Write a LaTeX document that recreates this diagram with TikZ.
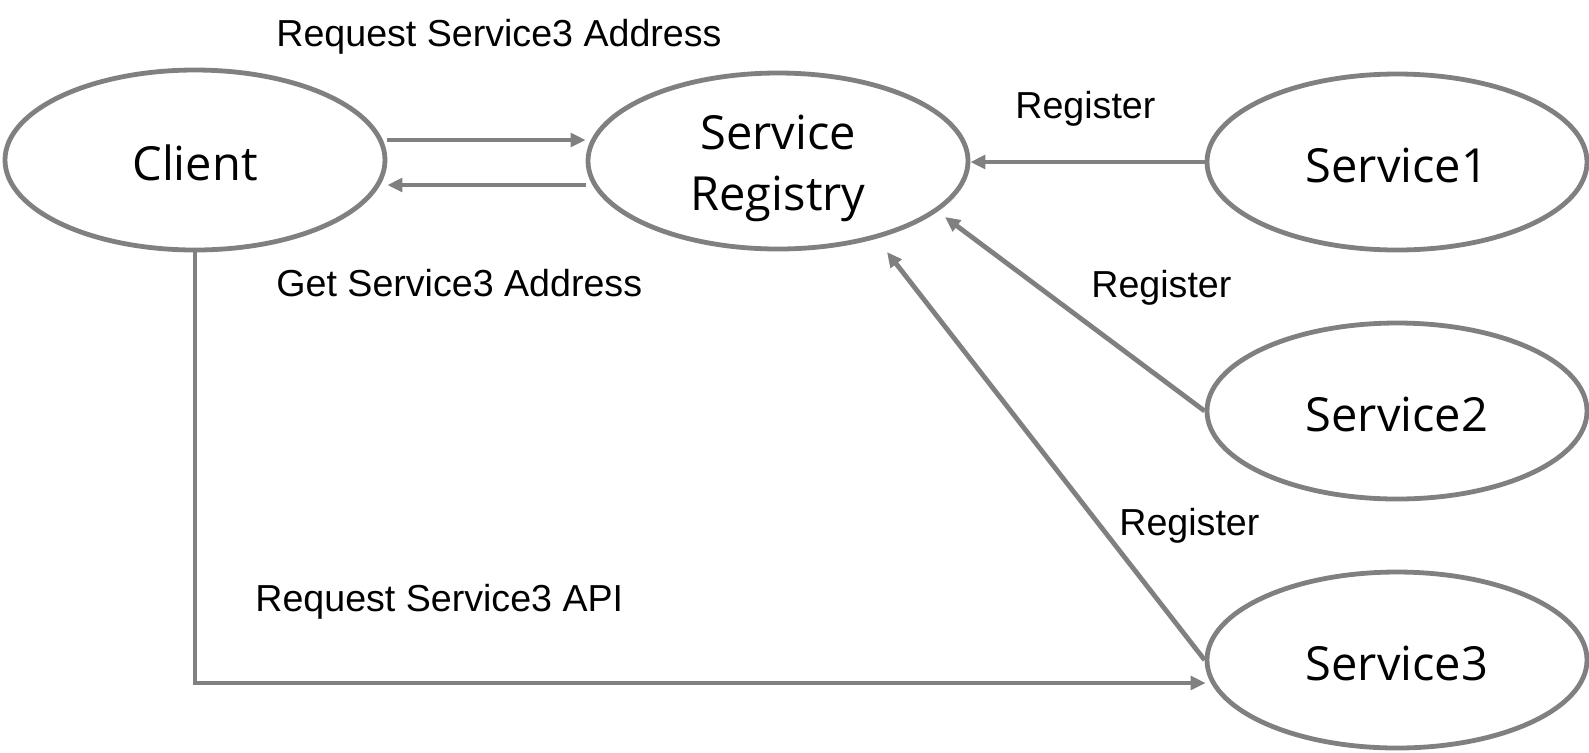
\documentclass[tikz,border=0pt]{standalone}
\usepackage{fontspec}
\newfontfamily\ellfont{Open Sans}
\newfontfamily\lblfont{Liberation Sans}
\usetikzlibrary{shapes.geometric,arrows.meta,calc}
\definecolor{edgegray}{RGB}{128,128,128}
\tikzset{
  oval/.style={ellipse, draw=edgegray, line width=2.4pt, inner sep=0pt,
    minimum width=190pt, minimum height=88pt, align=center, text height=20.5pt,
    font=\ellfont\fontsize{23.5pt}{30.5pt}\selectfont},
  arr/.style={draw=edgegray, line width=2.4pt,
    -{Triangle[length=7.5pt,width=6.8pt]}},
  lbl/.style={anchor=west, inner sep=0pt,
    font=\lblfont\fontsize{18.8pt}{22pt}\selectfont}
}
\begin{document}
\begin{tikzpicture}[x=0.5pt,y=-0.5pt]
\useasboundingbox[fill=white] (0,0) rectangle (1589,752);
\node[oval, minimum height=90pt] (client) at (195,160) {Client};
\node[oval, text height=55.5pt] (reg) at (778,161) {Service\\Registry};
\node[oval] (s1) at (1397,162) {Service1};
\node[oval] (s2) at (1397,411) {Service2};
\node[oval] (s3) at (1397,660) {Service3};

\draw[arr] ([yshift=10pt]client.east) -- ([yshift=10pt]client.east -| reg.west);
\draw[arr] ([yshift=-12.5pt]client.east -| reg.west) -- ([yshift=-12.5pt]client.east);
\draw[arr] (s1.west) -- (s1.west -| reg.east);
\draw[arr] (s2.west) -- ($(reg.center)+(167,56)$);
\draw[arr] (s3.west) -- ($(reg.center)+(109,91)$);
\draw[arr] (client.south) |- ($(s3.west)+(1,23)$);

\node[lbl] (l1) at (276,37) {Request Service3 Address};
\node[lbl] (l2) at (276,283) {Get Service3 Address};
\node[lbl] (l3) at (1015,109) {Register};
\node[lbl] (l4) at (1091,288) {Register};
\node[lbl] (l5) at (1119,526) {Register};
\node[lbl] (l6) at (255,602) {Request Service3 API};
\end{tikzpicture}
\end{document}
